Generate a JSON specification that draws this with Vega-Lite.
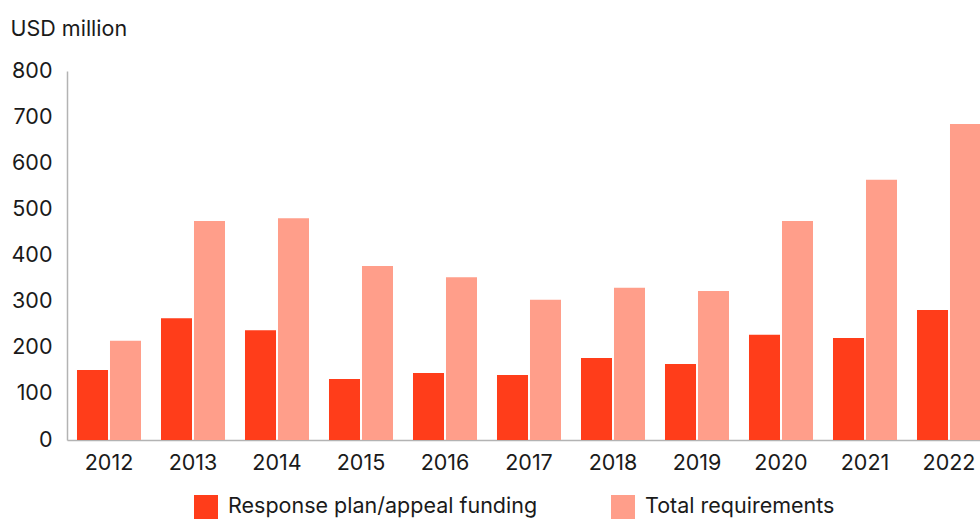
{
  "$schema": "https://vega.github.io/schema/vega-lite/v6.json",
  "autosize": "none",
  "padding": {"left": 67, "top": 71, "right": 0, "bottom": 79},
  "width": 913,
  "height": 369,
  "background": "white",
  "config": {
    "view": {"stroke": null},
    "font": "Inter",
    "axis": {"labelFont": "Inter", "titleFont": "Inter", "labelColor": "#1a1a1a", "titleColor": "#1a1a1a"}
  },
  "data": {
    "values": [
      {"year": "2012", "series": "Response plan/appeal funding", "value": 152},
      {"year": "2012", "series": "Total requirements", "value": 215},
      {"year": "2013", "series": "Response plan/appeal funding", "value": 264},
      {"year": "2013", "series": "Total requirements", "value": 475},
      {"year": "2014", "series": "Response plan/appeal funding", "value": 238},
      {"year": "2014", "series": "Total requirements", "value": 481},
      {"year": "2015", "series": "Response plan/appeal funding", "value": 132},
      {"year": "2015", "series": "Total requirements", "value": 377},
      {"year": "2016", "series": "Response plan/appeal funding", "value": 145},
      {"year": "2016", "series": "Total requirements", "value": 353},
      {"year": "2017", "series": "Response plan/appeal funding", "value": 141},
      {"year": "2017", "series": "Total requirements", "value": 304},
      {"year": "2018", "series": "Response plan/appeal funding", "value": 178},
      {"year": "2018", "series": "Total requirements", "value": 330},
      {"year": "2019", "series": "Response plan/appeal funding", "value": 165},
      {"year": "2019", "series": "Total requirements", "value": 323},
      {"year": "2020", "series": "Response plan/appeal funding", "value": 228},
      {"year": "2020", "series": "Total requirements", "value": 475},
      {"year": "2021", "series": "Response plan/appeal funding", "value": 221},
      {"year": "2021", "series": "Total requirements", "value": 564},
      {"year": "2022", "series": "Response plan/appeal funding", "value": 282},
      {"year": "2022", "series": "Total requirements", "value": 685}
    ]
  },
  "mark": {"type": "bar", "clip": false},
  "encoding": {
    "x": {
      "field": "year",
      "type": "nominal",
      "scale": {"range": [0, 924], "paddingInner": 0.238, "paddingOuter": 0.119},
      "axis": {
        "title": null,
        "labelAngle": 0,
        "labelFontSize": 21.5,
        "labelPadding": 12,
        "ticks": false,
        "domainColor": "#b3b3b3",
        "domainWidth": 1.5,
        "grid": false
      }
    },
    "xOffset": {
      "field": "series",
      "type": "nominal",
      "scale": {"paddingInner": 0.06}
    },
    "y": {
      "field": "value",
      "type": "quantitative",
      "scale": {"domain": [0, 800]},
      "axis": {
        "values": [0, 100, 200, 300, 400, 500, 600, 700, 800],
        "title": "USD million",
        "titleAngle": 0,
        "titleAlign": "left",
        "titleBaseline": "alphabetic",
        "titleX": -57,
        "titleY": -36,
        "titleFontSize": 21.5,
        "titleFontWeight": "normal",
        "labelFontSize": 21.5,
        "labelPadding": 15,
        "ticks": false,
        "grid": false,
        "domainColor": "#b3b3b3",
        "domainWidth": 1.5
      }
    },
    "color": {
      "field": "series",
      "type": "nominal",
      "scale": {
        "domain": ["Response plan/appeal funding", "Total requirements"],
        "range": ["#ff3d1a", "#ff9e8a"]
      },
      "legend": {
        "title": null,
        "orient": "none",
        "legendX": 127,
        "legendY": 424,
        "direction": "horizontal",
        "symbolType": "square",
        "symbolSize": 576,
        "symbolStrokeWidth": 0,
        "labelFontSize": 21.5,
        "labelOffset": 10,
        "labelColor": "#1a1a1a",
        "columnPadding": 73,
        "labelLimit": 400
      }
    }
  }
}
